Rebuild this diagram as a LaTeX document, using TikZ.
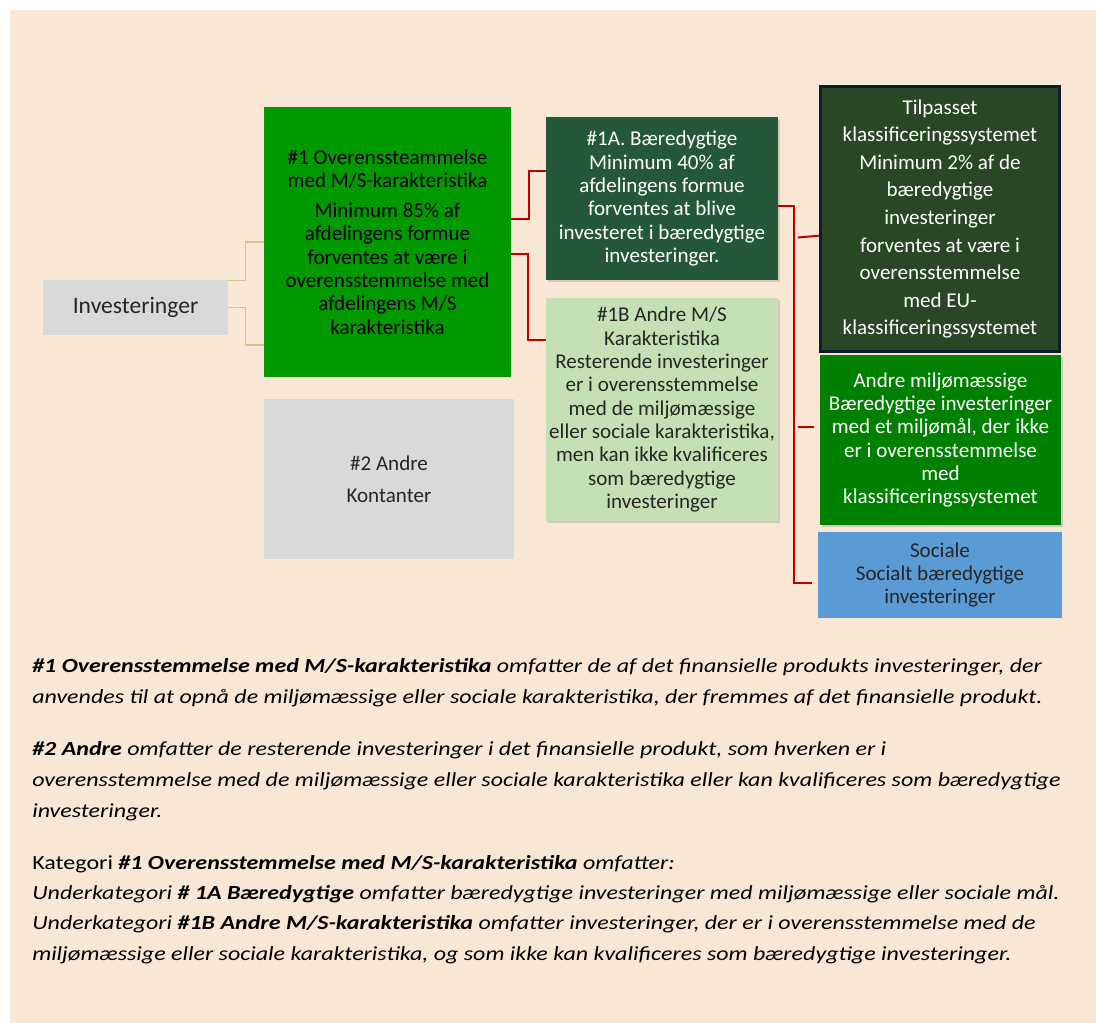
\documentclass[tikz,border=0pt]{standalone}
\usepackage{fontspec}
\setmainfont{Carlito}
\newfontfamily\notefont[FakeStretch=1.2]{Carlito}
\usetikzlibrary{shadows}
\definecolor{bgbeige}{HTML}{F9E7D6}
\definecolor{textdark}{HTML}{262626}
\definecolor{boxgray}{HTML}{D9D9D9}
\definecolor{greenone}{HTML}{009900}
\definecolor{darkgreen}{HTML}{25573A}
\definecolor{lightgreen}{HTML}{C5E0B4}
\definecolor{olivegreen}{HTML}{294625}
\definecolor{navyedge}{HTML}{0E1B2C}
\definecolor{greenmid}{HTML}{008000}
\definecolor{bluesoc}{HTML}{5B9BD5}
\definecolor{redconn}{HTML}{C00000}
\definecolor{tanconn}{HTML}{D5C48B}

\begin{document}
\begin{tikzpicture}[x=0.75pt,y=-0.75pt,
	box/.style={align=center,inner sep=0pt,font=\fontsize{15.8}{17.5}\selectfont},
	shade/.style={drop shadow={shadow xshift=1.2pt,shadow yshift=-1.2pt,opacity=0.3}},
	redline/.style={draw=redconn,line width=1.5pt},
	tanline/.style={draw=tanconn,line width=1pt},
	note/.style={anchor=north west,align=left,inner sep=0pt,font=\notefont\fontsize{15}{23.5}\selectfont\itshape}]
			\fill[white] (0,0) rectangle (1096,1023);
			\fill[bgbeige] (10,10) rectangle (1096,1023);
			\useasboundingbox (0,0) rectangle (1096,1023);
			
			\node[box,fill=boxgray,text=textdark,minimum width=138.75pt,minimum height=41.25pt,font=\fontsize{17.7}{20}\selectfont] (inv) at (135.5,307.5) {Investeringer};
			\node[box,fill=greenone,minimum width=185.25pt,minimum height=202.5pt] (one) at (387.5,242) {\#1 Overenssteammelse\\med M/S-karakteristika\\[5pt]Minimum 85\% af\\afdelingens formue\\forventes at være i\\overensstemmelse med\\afdelingens M/S\\karakteristika};
			\node[box,fill=boxgray,text=textdark,minimum width=187.5pt,minimum height=120pt,font=\fontsize{15.8}{24}\selectfont] (two) at (389,479) {\#2 Andre\\Kontanter};
			
			\node[box,shade,fill=darkgreen,text=white,minimum width=174pt,minimum height=122.25pt] (oneA) at (662,198.5) {\#1A. Bæredygtige\\Minimum 40\% af\\afdelingens formue\\forventes at blive\\investeret i bæredygtige\\investeringer.};
			\node[box,shade,fill=lightgreen,text=textdark,minimum width=174pt,minimum height=167.25pt] (oneB) at (662,409.5) {\#1B Andre M/S\\Karakteristika\\Resterende investeringer\\er i overensstemmelse\\med de miljømæssige\\eller sociale karakteristika,\\men kan ikke kvalificeres\\som bæredygtige\\investeringer};
			
			\node[box,fill=olivegreen,draw=navyedge,line width=2.25pt,text=white,minimum width=179.25pt,minimum height=198.75pt,font=\fontsize{15.8}{20.7}\selectfont] (tilp) at (940,219) {Tilpasset\\klassificeringssystemet\\Minimum 2\% af de\\bæredygtige\\investeringer\\forventes at være i\\overensstemmelse\\med EU-\\klassificeringssystemet};
			\node[box,shade,fill=greenmid,text=white,minimum width=180.75pt,minimum height=127.5pt] (andre) at (940.5,440) {Andre miljømæssige\\Bæredygtige investeringer\\med et miljømål, der ikke\\er i overensstemmelse\\med\\klassificeringssystemet};
			\node[box,fill=bluesoc,text=textdark,minimum width=183pt,minimum height=64.5pt] (soc) at (940,575) {Sociale\\Socialt bæredygtige\\investeringer};
			
			\draw[tanline] ([yshift=-0.4pt]inv.north east) -- ++(17,0) |- (one.west);
			\draw[tanline] (inv.east) -- ++(17,0) |- ([yshift=-77.25pt]one.west);
			\draw[redline] ([yshift=17.25pt]one.east) -- ++(18,0) |- ([yshift=20.6pt]oneA.west);
			\draw[redline] ([yshift=-9pt]one.east) -- ++(17,0) |- ([yshift=52pt]oneB.west);
			\draw[redline] ([yshift=-5.6pt]oneA.east) -- ++(16,0) |- ([xshift=-4pt,yshift=-6pt]soc.west);
			\coordinate (tickA) at (798,237.5);
			\coordinate (tickB) at (798,427);
			\draw[redline] (tickA) -- ([yshift=-12.5pt]tilp.west);
			\draw[redline] (tickB) -- ([xshift=-4pt,yshift=9.75pt]andre.west);
			
			\node[note] (noteA) at (32,658) {\textbf{\#1 Overensstemmelse med M/S-karakteristika} omfatter de af det finansielle produkts investeringer, der\\anvendes til at opnå de miljømæssige eller sociale karakteristika, der fremmes af det finansielle produkt.};
			\node[note] (noteB) at (32,741) {\textbf{\#2 Andre} omfatter de resterende investeringer i det finansielle produkt, som hverken er i\\overensstemmelse med de miljømæssige eller sociale karakteristika eller kan kvalificeres som bæredygtige\\investeringer.};
			\node[note,font=\notefont\fontsize{15}{22.7}\selectfont\itshape] (noteC) at (32,855) {{\upshape Kategori} \textbf{\#1 Overensstemmelse med M/S-karakteristika} omfatter:\\Underkategori \textbf{\# 1A Bæredygtige} omfatter bæredygtige investeringer med miljømæssige eller sociale mål.\\Underkategori \textbf{\#1B Andre M/S-karakteristika} omfatter investeringer, der er i overensstemmelse med de\\miljømæssige eller sociale karakteristika, og som ikke kan kvalificeres som bæredygtige investeringer.};
		\end{tikzpicture}
\end{document}
